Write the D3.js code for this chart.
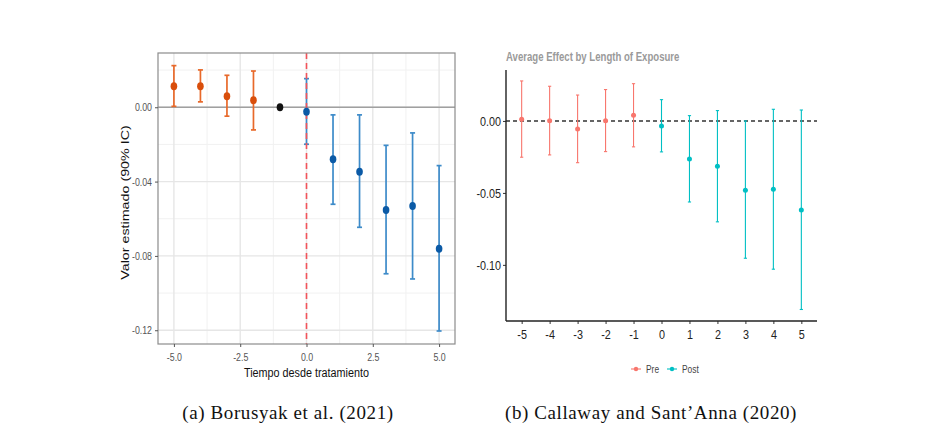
<!DOCTYPE html>
<html><head><meta charset="utf-8">
<script src="https://cdn.jsdelivr.net/npm/d3@7"></script>
<style>
html,body{margin:0;padding:0;background:#fff;}
svg{display:block;}
text{font-family:"Liberation Sans",Arial,sans-serif;}
</style></head>
<body><svg id="c" width="940" height="432"></svg>
<script>
// ---------- Data: panel (a) Borusyak et al. ----------
const leftTimes = [-5,-4,-3,-2,-1,0,1,2,3,4,5];
const leftEst   = [0.0113,0.0113,0.0059,0.0038,0.0000,-0.0024,-0.0280,-0.0347,-0.0553,-0.0531,-0.0761];
const leftLow   = [0.0005,0.0029,-0.0048,-0.0122,null,-0.0199,-0.0522,-0.0646,-0.0896,-0.0924,-0.1204];
const leftHigh  = [0.0224,0.0201,0.0172,0.0195,null,0.0154,-0.0041,-0.0041,-0.0205,-0.0138,-0.0314];
const leftGroup = ["pre","pre","pre","pre","ref","post","post","post","post","post","post"];
const leftXTicks = [-5,-2.5,0,2.5,5];
const leftXLabels = ["-5.0","-2.5","0.0","2.5","5.0"];
const leftXMinor = [-3.75,-1.25,1.25,3.75];
const leftYTicks = [0,-0.04,-0.08,-0.12];
const leftYLabels = ["0.00","-0.04","-0.08","-0.12"];
const leftYMinor = [0.02,-0.02,-0.06,-0.10];

// ---------- Data: panel (b) Callaway and Sant'Anna ----------
const rightTimes = [-5,-4,-3,-2,-1,0,1,2,3,4,5];
const rightEst   = [0.0012,0.0002,-0.0056,0.0002,0.0039,-0.0035,-0.0264,-0.0315,-0.0481,-0.0475,-0.0618];
const rightLow   = [-0.0252,-0.0236,-0.0290,-0.0213,-0.0180,-0.0215,-0.0563,-0.0701,-0.0954,-0.1030,-0.1310];
const rightHigh  = [0.0278,0.0241,0.0180,0.0218,0.0259,0.0148,0.0037,0.0072,0.0000,0.0081,0.0076];
const rightGroup = ["Pre","Pre","Pre","Pre","Pre","Post","Post","Post","Post","Post","Post"];
const rightXLabels = ["-5","-4","-3","-2","-1","0","1","2","3","4","5"];
const rightYTicks = [0,-0.05,-0.10];
const rightYLabels = ["0.00","-0.05","-0.10"];
const legendKeys = ["Pre","Post"];

const captions = ["(a) Borusyak et al. (2021)", "(b) Callaway and Sant\u2019Anna (2020)"];

const SX = 0.8; // horizontal condensation of the chart text
const svg = d3.select("#c");

function condense(sel){
  sel.each(function(){
    const t = d3.select(this);
    const x = +t.attr("x") || 0;
    t.attr("x", x/SX).attr("transform", `scale(${SX},1)`);
  });
}
function label(g, x, y, txt, opts){
  const t = g.append("text").attr("transform",`translate(${x},${y}) scale(${SX},1)`).text(txt);
  Object.entries(opts).forEach(([k,v])=>t.attr(k,v));
  return t;
}

// ================= Panel (a) =================
const L = {x0:158, x1:455, y0:53, y1:344};
const lx = d3.scaleLinear().domain([-5.6,5.6]).range([L.x0,L.x1]);
const ly = d3.scaleLinear().domain([-0.1274,0.0292]).range([L.y1,L.y0]);
const lColors = {pre:{bar:"#e8692a",pt:"#d94e0b"}, ref:{bar:"#111",pt:"#111"}, post:{bar:"#3d8bc9",pt:"#0b5aa6"}};
const gL = svg.append("g");
gL.append("rect").attr("x",L.x0).attr("y",L.y0).attr("width",L.x1-L.x0).attr("height",L.y1-L.y0).attr("fill","#fff");
gL.selectAll(".mx").data(leftXMinor).join("line").attr("x1",d=>lx(d)).attr("x2",d=>lx(d)).attr("y1",L.y0).attr("y2",L.y1).attr("stroke","#f1f1f1").attr("stroke-width",1);
gL.selectAll(".my").data(leftYMinor).join("line").attr("y1",d=>ly(d)).attr("y2",d=>ly(d)).attr("x1",L.x0).attr("x2",L.x1).attr("stroke","#f1f1f1").attr("stroke-width",1);
gL.selectAll(".Mx").data(leftXTicks).join("line").attr("x1",d=>lx(d)).attr("x2",d=>lx(d)).attr("y1",L.y0).attr("y2",L.y1).attr("stroke","#e6e6e6").attr("stroke-width",1.4);
gL.selectAll(".My").data(leftYTicks).join("line").attr("y1",d=>ly(d)).attr("y2",d=>ly(d)).attr("x1",L.x0).attr("x2",L.x1).attr("stroke","#e6e6e6").attr("stroke-width",1.4);
gL.append("line").attr("x1",L.x0).attr("x2",L.x1).attr("y1",ly(0)).attr("y2",ly(0)).attr("stroke","#a0a0a0").attr("stroke-width",1.6);
const lData = leftTimes.map((t,i)=>({t,est:leftEst[i],lo:leftLow[i],hi:leftHigh[i],g:leftGroup[i]}));
const lBars = lData.filter(d=>d.lo!==null);
gL.selectAll(".eb").data(lBars).join("line").attr("x1",d=>lx(d.t)).attr("x2",d=>lx(d.t)).attr("y1",d=>ly(d.lo)).attr("y2",d=>ly(d.hi)).attr("stroke",d=>lColors[d.g].bar).attr("stroke-width",1.7);
gL.selectAll(".cl").data(lBars).join("line").attr("x1",d=>lx(d.t)-2.5).attr("x2",d=>lx(d.t)+2.5).attr("y1",d=>ly(d.lo)).attr("y2",d=>ly(d.lo)).attr("stroke",d=>lColors[d.g].bar).attr("stroke-width",1.7);
gL.selectAll(".ch").data(lBars).join("line").attr("x1",d=>lx(d.t)-2.5).attr("x2",d=>lx(d.t)+2.5).attr("y1",d=>ly(d.hi)).attr("y2",d=>ly(d.hi)).attr("stroke",d=>lColors[d.g].bar).attr("stroke-width",1.7);
gL.append("line").attr("x1",lx(0)).attr("x2",lx(0)).attr("y1",L.y0).attr("y2",L.y1).attr("stroke","#f2545b").attr("stroke-width",1.6).attr("stroke-dasharray","6,4");
gL.selectAll(".pt").data(lData).join("ellipse").attr("cx",d=>lx(d.t)).attr("cy",d=>ly(d.est)).attr("rx",3.3).attr("ry",4).attr("fill",d=>lColors[d.g].pt);
gL.append("rect").attr("x",L.x0).attr("y",L.y0).attr("width",L.x1-L.x0).attr("height",L.y1-L.y0).attr("fill","none").attr("stroke","#8c8c8c").attr("stroke-width",1.2);
const lxAxis = d3.axisBottom(lx).tickValues(leftXTicks).tickFormat((d,i)=>leftXLabels[i]).tickSize(3).tickPadding(6);
const gx = gL.append("g").attr("transform",`translate(0,${L.y1})`).call(lxAxis);
gx.select(".domain").remove();
gx.selectAll("line").attr("stroke","#555");
gx.selectAll("text").attr("font-size",11).attr("fill","#555").call(condense);
const lyAxis = d3.axisLeft(ly).tickValues(leftYTicks).tickFormat((d,i)=>leftYLabels[i]).tickSize(3).tickPadding(3);
const gy = gL.append("g").attr("transform",`translate(${L.x0},0)`).call(lyAxis);
gy.select(".domain").remove();
gy.selectAll("line").attr("stroke","#555");
gy.selectAll("text").attr("font-size",11).attr("fill","#555").call(condense);
label(gL,(L.x0+L.x1)/2,377,"Tiempo desde tratamiento",{"text-anchor":"middle","font-size":13.5,"fill":"#111"});
gL.append("text").attr("transform",`translate(129,${(L.y0+L.y1)/2+4}) scale(${SX},1) rotate(-90)`).attr("text-anchor","middle").attr("font-size",14.3).attr("fill","#111").text("Valor estimado (90% IC)");

// ================= Panel (b) =================
const R = {x0:506, x1:817, y0:70, y1:321};
const rx = d3.scaleLinear().domain([-5.56,5.56]).range([R.x0,R.x1]);
const ry = d3.scaleLinear().domain([-0.139,0.0354]).range([R.y1,R.y0]);
const rColor = d3.scaleOrdinal().domain(legendKeys).range(["#f8766d","#00bfc4"]);
const gR = svg.append("g");
label(gR,R.x0,61,"Average Effect by Length of Exposure",{"font-size":12,"font-weight":"bold","fill":"#9a9a9a"});
gR.append("line").attr("x1",R.x0).attr("x2",R.x1).attr("y1",ry(0)).attr("y2",ry(0)).attr("stroke","#333").attr("stroke-width",1.6).attr("stroke-dasharray","4,3");
const rData = rightTimes.map((t,i)=>({t,est:rightEst[i],lo:rightLow[i],hi:rightHigh[i],g:rightGroup[i]}));
gR.selectAll(".eb").data(rData).join("line").attr("x1",d=>rx(d.t)).attr("x2",d=>rx(d.t)).attr("y1",d=>ry(d.lo)).attr("y2",d=>ry(d.hi)).attr("stroke",d=>rColor(d.g)).attr("stroke-width",1.1);
gR.selectAll(".cl").data(rData).join("line").attr("x1",d=>rx(d.t)-1.6).attr("x2",d=>rx(d.t)+1.6).attr("y1",d=>ry(d.lo)).attr("y2",d=>ry(d.lo)).attr("stroke",d=>rColor(d.g)).attr("stroke-width",1.1);
gR.selectAll(".ch").data(rData).join("line").attr("x1",d=>rx(d.t)-1.6).attr("x2",d=>rx(d.t)+1.6).attr("y1",d=>ry(d.hi)).attr("y2",d=>ry(d.hi)).attr("stroke",d=>rColor(d.g)).attr("stroke-width",1.1);
gR.selectAll(".pt").data(rData).join("circle").attr("cx",d=>rx(d.t)).attr("cy",d=>ry(d.est)).attr("r",2.5).attr("fill",d=>rColor(d.g));
const rxAxis = d3.axisBottom(rx).tickValues(rightTimes).tickFormat((d,i)=>rightXLabels[i]).tickSize(3).tickPadding(5);
const rgx = gR.append("g").attr("transform",`translate(0,${R.y1})`).call(rxAxis);
rgx.select(".domain").remove();
rgx.selectAll("line").attr("stroke","#333");
rgx.selectAll("text").attr("font-size",13.5).attr("fill","#222").call(condense);
const ryAxis = d3.axisLeft(ry).tickValues(rightYTicks).tickFormat((d,i)=>rightYLabels[i]).tickSize(3).tickPadding(2);
const rgy = gR.append("g").attr("transform",`translate(${R.x0},0)`).call(ryAxis);
rgy.select(".domain").remove();
rgy.selectAll("line").attr("stroke","#333");
rgy.selectAll("text").attr("font-size",13.5).attr("fill","#222").call(condense);
gR.append("line").attr("x1",R.x0).attr("x2",R.x0).attr("y1",R.y0).attr("y2",R.y1).attr("stroke","#222").attr("stroke-width",1.4);
gR.append("line").attr("x1",R.x0).attr("x2",R.x1).attr("y1",R.y1).attr("y2",R.y1).attr("stroke","#222").attr("stroke-width",1.4);
const legX = [631, 667];
const leg = gR.selectAll(".leg").data(legendKeys).join("g").attr("transform",(d,i)=>`translate(${legX[i]},369)`);
leg.append("line").attr("x1",0).attr("x2",10).attr("y1",0).attr("y2",0).attr("stroke",d=>rColor(d)).attr("stroke-width",1.1);
leg.append("circle").attr("cx",5).attr("cy",0).attr("r",2.2).attr("fill",d=>rColor(d));
leg.append("text").attr("x",15).attr("y",4).attr("font-size",10.5).attr("fill","#444").text(d=>d).call(condense);

// ================= Captions =================
const capX = [288, 651];
svg.selectAll(".cap").data(captions).join("text").attr("x",(d,i)=>capX[i]).attr("y",419).attr("text-anchor","middle")
  .style("font-family","'Liberation Serif','Times New Roman',serif").attr("font-size",19).attr("letter-spacing",0.6).attr("fill","#111").text(d=>d);
</script></body></html>
